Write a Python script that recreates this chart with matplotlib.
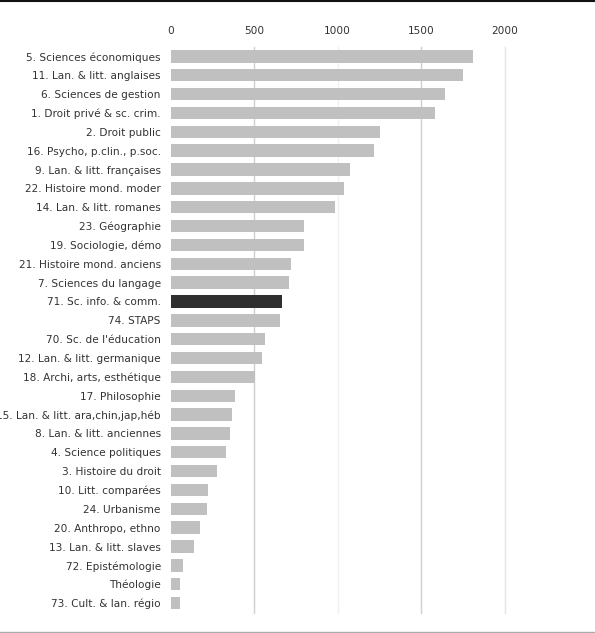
import matplotlib
matplotlib.use("Agg")
import matplotlib.pyplot as plt
from matplotlib.lines import Line2D

categories = [
    "5. Sciences économiques", "11. Lan. & litt. anglaises", "6. Sciences de gestion",
    "1. Droit privé & sc. crim.", "2. Droit public", "16. Psycho, p.clin., p.soc.",
    "9. Lan. & litt. françaises", "22. Histoire mond. moder", "14. Lan. & litt. romanes",
    "23. Géographie", "19. Sociologie, démo", "21. Histoire mond. anciens",
    "7. Sciences du langage", "71. Sc. info. & comm.", "74. STAPS",
    "70. Sc. de l'éducation", "12. Lan. & litt. germanique", "18. Archi, arts, esthétique",
    "17. Philosophie", "15. Lan. & litt. ara,chin,jap,héb", "8. Lan. & litt. anciennes",
    "4. Science politiques", "3. Histoire du droit", "10. Litt. comparées",
    "24. Urbanisme", "20. Anthropo, ethno", "13. Lan. & litt. slaves",
    "72. Epistémologie", "Théologie", "73. Cult. & lan. régio",
]
values = [1811, 1747, 1644, 1584, 1254, 1217, 1075, 1039, 985, 801,
          797, 723, 711, 666, 652, 568, 548, 506, 384, 368,
          356, 330, 278, 226, 216, 177, 143, 73, 57, 57]
highlight = "71. Sc. info. & comm."
xticks = [0, 500, 1000, 1500, 2000]

W, H = 595, 633
fig = plt.figure(figsize=(W / 100, H / 100), dpi=100)
ax = fig.add_axes([170.5 / W, 1 - 612.5 / H, (505 - 170.5) / W, (612.5 - 47) / H])

grid_colors = {0: "#ffffff", 500: "#cfcfcf", 1000: "#f0f0f0", 1500: "#cfcfcf", 2000: "#e4e4e4"}
for t in xticks[1:]:
    ax.axvline(t, color=grid_colors[t], lw=1, zorder=0, clip_on=False)

colors = ["#2f2f2f" if c == highlight else "#c0c0c0" for c in categories]
ypos = list(range(len(categories)))
ax.barh(ypos, values, height=0.66, color=colors, zorder=2)

ax.set_xlim(0, 2000)
ax.set_ylim(len(categories) - 0.5, -0.5)
ax.set_yticks(ypos)
ax.set_yticklabels(categories)
ax.set_xticks(xticks)
ax.set_xticklabels([str(t) for t in xticks])
ax.xaxis.tick_top()
ax.tick_params(axis="both", length=0, labelsize=7.6, colors="#333333")
ax.tick_params(axis="x", pad=8)
ax.tick_params(axis="y", pad=7)
for s in ax.spines.values():
    s.set_visible(False)

fig.add_artist(Line2D([0, 1], [1 - 1 / H, 1 - 1 / H], color="#111111", lw=1.5, transform=fig.transFigure))
fig.add_artist(Line2D([0, 1], [1 - 632 / H, 1 - 632 / H], color="#aaaaaa", lw=1.0, transform=fig.transFigure))

fig.savefig("out.png", dpi=100)
